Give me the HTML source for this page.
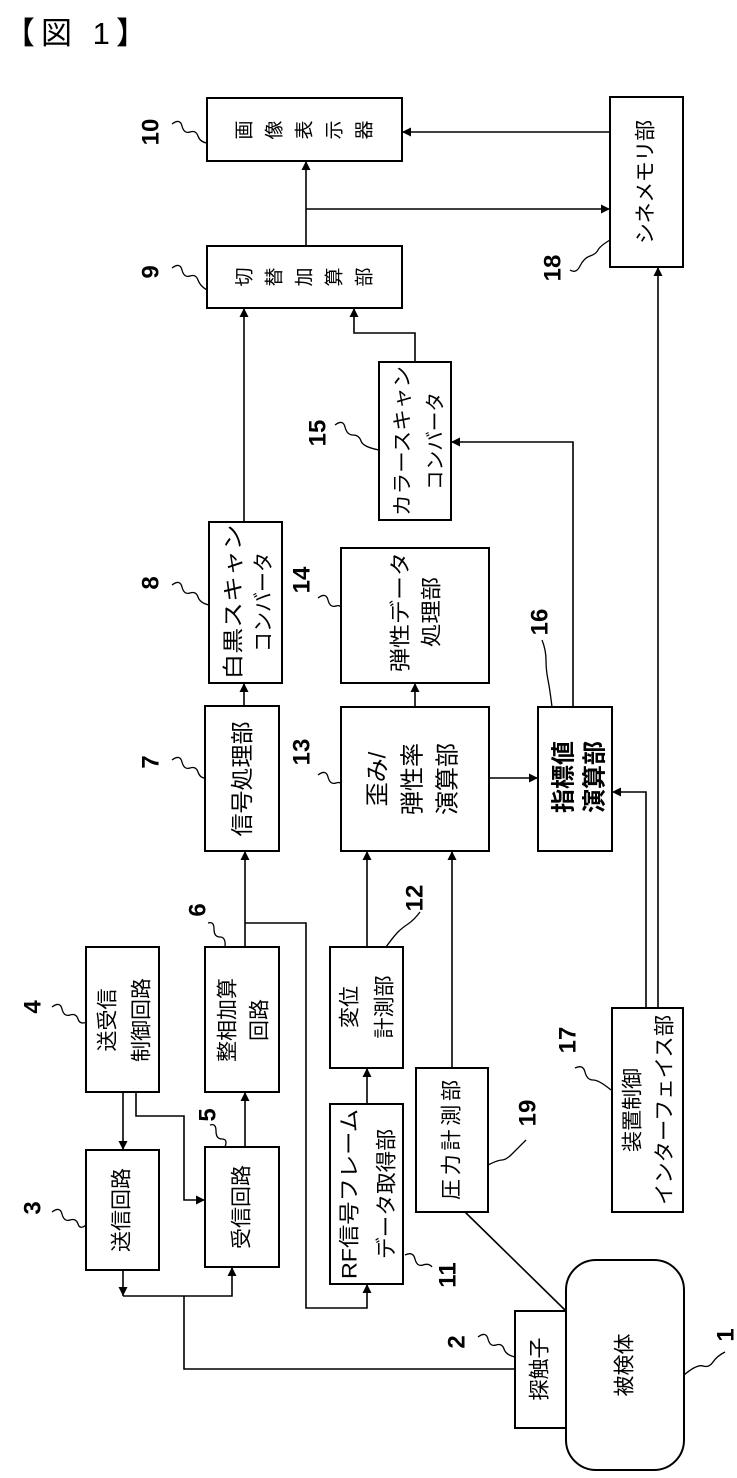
<!DOCTYPE html>
<html><head><meta charset="utf-8"><style>
html,body{margin:0;padding:0;background:#fff;}
svg{display:block;}
text{font-family:"Liberation Sans","Noto Sans CJK JP",sans-serif;fill:#000;}
.t{font-size:21px;text-anchor:middle;dominant-baseline:central;}
.n{font-size:24px;font-weight:bold;text-anchor:middle;dominant-baseline:central;}
</style></head><body>
<svg width="737" height="1478" viewBox="0 0 737 1478" xmlns="http://www.w3.org/2000/svg">
<defs><marker id="a" viewBox="0 0 10 10" refX="10" refY="5" markerWidth="9" markerHeight="9" markerUnits="userSpaceOnUse" orient="auto"><path d="M0,0L10,5L0,10z" fill="#000"/></marker></defs>
<text x="4" y="44" style="font-size:31px;letter-spacing:6px;">【図 1】</text>
<g fill="none" stroke="#000" stroke-width="2">
<rect x="207" y="98" width="195" height="63"/>
<rect x="610" y="97" width="73" height="170"/>
<rect x="207" y="246" width="195" height="62"/>
<rect x="379" y="362" width="72" height="158"/>
<rect x="209" y="522" width="73" height="161"/>
<rect x="341" y="548" width="148" height="135"/>
<rect x="205" y="706" width="74" height="145"/>
<rect x="341" y="707" width="148" height="144"/>
<rect x="538" y="707" width="74" height="144"/>
<rect x="86" y="947" width="73" height="145"/>
<rect x="205" y="947" width="74" height="145"/>
<rect x="330" y="947" width="73" height="121"/>
<rect x="86" y="1150" width="73" height="120"/>
<rect x="205" y="1147" width="74" height="120"/>
<rect x="330" y="1104" width="73" height="180"/>
<rect x="416" y="1068" width="72" height="144"/>
<rect x="612" y="1008" width="71" height="204"/>
<rect x="515" y="1311" width="51" height="117"/>
<rect x="566" y="1260" width="118" height="210" rx="30"/>
</g>
<g fill="none" stroke="#000" stroke-width="1.6">
<path d="M610,132H402" marker-end="url(#a)"/>
<path d="M306,246V161" marker-end="url(#a)"/>
<path d="M306,209H610" marker-end="url(#a)"/>
<path d="M244,522V308" marker-end="url(#a)"/>
<path d="M415,362V333H354V308" marker-end="url(#a)"/>
<path d="M573,707V442H451" marker-end="url(#a)"/>
<path d="M658,1008V267" marker-end="url(#a)"/>
<path d="M244,706V683" marker-end="url(#a)"/>
<path d="M415,707V683" marker-end="url(#a)"/>
<path d="M489,778H538" marker-end="url(#a)"/>
<path d="M646,1008V792H612" marker-end="url(#a)"/>
<path d="M245,947V851" marker-end="url(#a)"/>
<path d="M245,923H306V1308H367V1284" marker-end="url(#a)"/>
<path d="M367,947V851" marker-end="url(#a)"/>
<path d="M452,1068V851" marker-end="url(#a)"/>
<path d="M367,1104V1068" marker-end="url(#a)"/>
<path d="M245,1147V1092" marker-end="url(#a)"/>
<path d="M123,1092V1150" marker-end="url(#a)"/>
<path d="M136,1092V1116H184V1200H205" marker-end="url(#a)"/>
<path d="M123,1270V1296" marker-end="url(#a)"/>
<path d="M123,1296H232V1267" marker-end="url(#a)"/>
<path d="M184,1296V1369H515"/>
<path d="M465,1212L566,1311"/>
</g>
<g fill="none" stroke="#000" stroke-width="1.3">
<path d="M172,124 q8,-6 10,2 t8,6 t8,4 t9,7"/>
<path d="M172,268 q8,-6 10,2 t8,6 t8,4 t9,10"/>
<path d="M570,270 q6,4 10,-4 t10,-10 t8,-6 t12,-10"/>
<path d="M335,425 q8,-6 10,2 t8,8 t8,6 t18,9"/>
<path d="M172,585 q8,-6 10,2 t8,6 t8,4 t11,8"/>
<path d="M318,598 q8,-6 10,2 t8,6 t5,6"/>
<path d="M542,640 q4,10 4,20 t2,20 t4,27"/>
<path d="M172,760 q8,-6 10,2 t8,6 t8,4 t7,6"/>
<path d="M318,775 q8,-6 10,2 t8,6 t5,4"/>
<path d="M208,923 q6,-2 6,6 t6,8 t5,10"/>
<path d="M420,912 q-6,8 -12,12 t-10,8 t-12,15"/>
<path d="M52,1007 q8,-6 10,2 t8,6 t8,4 t9,3"/>
<path d="M52,1212 q8,-6 10,2 t8,6 t8,4 t8,1"/>
<path d="M210,1125 q6,-2 6,6 t6,8 t3,8"/>
<path d="M405,1255 q8,-4 10,4 t8,6 t9,2"/>
<path d="M526,1140 q-8,8 -14,14 t-10,6 t-14,5"/>
<path d="M575,1068 q8,-4 10,4 t8,8 t18,10"/>
<path d="M478,1337 q8,-6 10,2 t8,6 t8,4 t11,8"/>
<path d="M725,1352 q-8,4 -12,10 t-10,4 t-19,9"/>
</g>
<g class="n">
<text class="n" transform="translate(151,132) rotate(-90)">10</text>
<text class="n" transform="translate(151,272) rotate(-90)">9</text>
<text class="n" transform="translate(553,268) rotate(-90)">18</text>
<text class="n" transform="translate(318,433) rotate(-90)">15</text>
<text class="n" transform="translate(151,583) rotate(-90)">8</text>
<text class="n" transform="translate(302,580) rotate(-90)">14</text>
<text class="n" transform="translate(540,622) rotate(-90)">16</text>
<text class="n" transform="translate(151,762) rotate(-90)">7</text>
<text class="n" transform="translate(302,752) rotate(-90)">13</text>
<text class="n" transform="translate(198,910) rotate(-90)">6</text>
<text class="n" transform="translate(415,898) rotate(-90)">12</text>
<text class="n" transform="translate(33,1007) rotate(-90)">4</text>
<text class="n" transform="translate(33,1208) rotate(-90)">3</text>
<text class="n" transform="translate(208,1115) rotate(-90)">5</text>
<text class="n" transform="translate(448,1275) rotate(-90)">11</text>
<text class="n" transform="translate(528,1113) rotate(-90)">19</text>
<text class="n" transform="translate(568,1040) rotate(-90)">17</text>
<text class="n" transform="translate(457,1342) rotate(-90)">2</text>
<text class="n" transform="translate(726,1335) rotate(-90)">1</text>
</g>
<g>
<text class="t" style="font-size:19px" transform="translate(245,130) rotate(-90)">画</text>
<text class="t" style="font-size:19px" transform="translate(275,130) rotate(-90)">像</text>
<text class="t" style="font-size:19px" transform="translate(305,130) rotate(-90)">表</text>
<text class="t" style="font-size:19px" transform="translate(335,130) rotate(-90)">示</text>
<text class="t" style="font-size:19px" transform="translate(365,130) rotate(-90)">器</text>
<text class="t" style="font-size:19px" transform="translate(245,277) rotate(-90)">切</text>
<text class="t" style="font-size:19px" transform="translate(275,277) rotate(-90)">替</text>
<text class="t" style="font-size:19px" transform="translate(305,277) rotate(-90)">加</text>
<text class="t" style="font-size:19px" transform="translate(335,277) rotate(-90)">算</text>
<text class="t" style="font-size:19px" transform="translate(365,277) rotate(-90)">部</text>
<text class="t" transform="translate(646,182) rotate(-90)" textLength="124" lengthAdjust="spacing">シネメモリ部</text>
<text class="t" style="font-size:20px" transform="translate(403,441) rotate(-90)" textLength="150" lengthAdjust="spacingAndGlyphs">カラースキャン</text>
<text class="t" style="font-size:20px" transform="translate(436,441) rotate(-90)" textLength="98" lengthAdjust="spacingAndGlyphs">コンバータ</text>
<text class="t" transform="translate(234,602) rotate(-90)" textLength="155" lengthAdjust="spacingAndGlyphs">白黒スキャン</text>
<text class="t" transform="translate(264,602) rotate(-90)" textLength="100" lengthAdjust="spacingAndGlyphs">コンバータ</text>
<text class="t" transform="translate(401,612) rotate(-90)" textLength="120" lengthAdjust="spacingAndGlyphs">弾性データ</text>
<text class="t" transform="translate(432,612) rotate(-90)" textLength="70" lengthAdjust="spacingAndGlyphs">処理部</text>
<text class="t" style="font-size:23px" transform="translate(242,779) rotate(-90)" textLength="115" lengthAdjust="spacing">信号処理部</text>
<text class="t" style="font-size:24px" transform="translate(378,779) rotate(-90)">歪み/</text>
<text class="t" style="font-size:24px" transform="translate(413,779) rotate(-90)">弾性率</text>
<text class="t" style="font-size:24px" transform="translate(448,779) rotate(-90)">演算部</text>
<text class="t" style="font-size:24px;font-weight:bold" transform="translate(564,777) rotate(-90)">指標値</text>
<text class="t" style="font-size:24px;font-weight:bold" transform="translate(595,777) rotate(-90)">演算部</text>
<text class="t" transform="translate(108,1020) rotate(-90)">送受信</text>
<text class="t" transform="translate(142,1020) rotate(-90)">制御回路</text>
<text class="t" transform="translate(228,1020) rotate(-90)">整相加算</text>
<text class="t" transform="translate(260,1020) rotate(-90)">回路</text>
<text class="t" transform="translate(350,1007) rotate(-90)">変位</text>
<text class="t" transform="translate(385,1007) rotate(-90)">計測部</text>
<text class="t" transform="translate(122,1210) rotate(-90)">送信回路</text>
<text class="t" transform="translate(242,1207) rotate(-90)">受信回路</text>
<text class="t" transform="translate(350,1194) rotate(-90)" textLength="170" lengthAdjust="spacingAndGlyphs">RF信号フレーム</text>
<text class="t" transform="translate(387,1194) rotate(-90)" textLength="130" lengthAdjust="spacingAndGlyphs">データ取得部</text>
<text class="t" transform="translate(452,1140) rotate(-90)" textLength="120" lengthAdjust="spacing">圧力計測部</text>
<text class="t" transform="translate(633,1110) rotate(-90)">装置制御</text>
<text class="t" transform="translate(665,1110) rotate(-90)" textLength="190" lengthAdjust="spacingAndGlyphs">インターフェイス部</text>
<text class="t" transform="translate(540,1369) rotate(-90)">探触子</text>
<text class="t" transform="translate(625,1365) rotate(-90)">被検体</text>
</g>
</svg>
</body></html>
